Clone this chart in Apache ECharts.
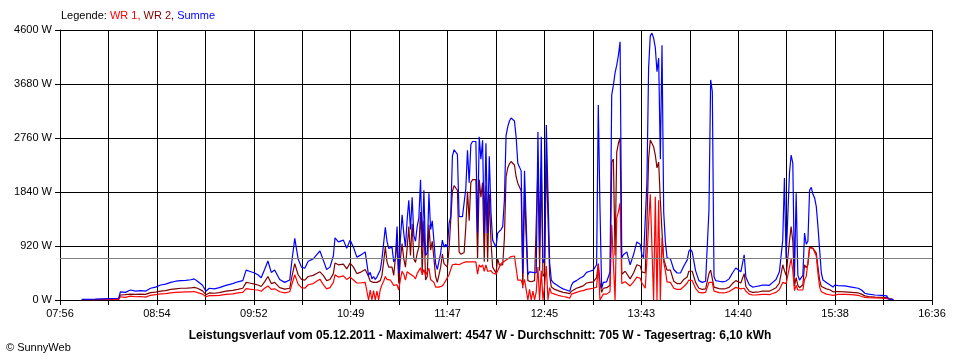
<!DOCTYPE html>
<html><head><meta charset="utf-8">
<script src="https://cdn.jsdelivr.net/npm/echarts@6/dist/echarts.min.js"></script>
<style>html,body{margin:0;padding:0;background:#fff}#c{width:960px;height:360px}</style>
</head><body><div id="c"></div>
<script>
const times = [
'08:09','08:17','08:26','08:31','08:32','08:35','08:38','08:41','08:44','08:47',
'08:50','08:53','08:56','08:59','09:02','09:05','09:08','09:11','09:14','09:16',
'09:18','09:21','09:23','09:25','09:28','09:31','09:35','09:39','09:42','09:45',
'09:47','09:49','09:52','09:54','09:56','09:58','10:00','10:02','10:04','10:07',
'10:10','10:13','10:14','10:16','10:18','10:20','10:22','10:24','10:27','10:29',
'10:31','10:33','10:35','10:37','10:39','10:40','10:42','10:45','10:47','10:49',
'10:51','10:53','10:55','10:58','11:00','11:01','11:02','11:03','11:04','11:05',
'11:06','11:07','11:08','11:09','11:10','11:11','11:12','11:13','11:14','11:15',
'11:16','11:17','11:18','11:19','11:20','11:21','11:22','11:23','11:24','11:25',
'11:26','11:27','11:28','11:29','11:30','11:31','11:32','11:33','11:34','11:35',
'11:36','11:37','11:38','11:39','11:40','11:41','11:42','11:43','11:44','11:45',
'11:46','11:47','11:48','11:49','11:50','11:51','11:52','11:53','11:54','11:55',
'11:56','11:57','11:58','11:59','12:00','12:01','12:02','12:03','12:04','12:05',
'12:06','12:07','12:08','12:09','12:10','12:11','12:12','12:13','12:14','12:15',
'12:16','12:17','12:18','12:19','12:20','12:21','12:22','12:23','12:24','12:25',
'12:26','12:27','12:28','12:29','12:30','12:31','12:32','12:33','12:34','12:35',
'12:36','12:37','12:38','12:39','12:40','12:41','12:42','12:43','12:44','12:45',
'12:46','12:47','12:48','12:49','12:50','12:51','12:52','12:53','12:54','12:56',
'12:58','12:59','13:00','13:01','13:02','13:04','13:06','13:08','13:10','13:12',
'13:14','13:16','13:17','13:18','13:19','13:20','13:22','13:24','13:25','13:26',
'13:27','13:28','13:29','13:30','13:31','13:32','13:33','13:34','13:36','13:38',
'13:40','13:41','13:42','13:43','13:44','13:45','13:46','13:47','13:48','13:49',
'13:50','13:51','13:52','13:53','13:54','13:55','13:56','13:57','13:58','14:00',
'14:02','14:04','14:06','14:08','14:10','14:11','14:12','14:13','14:15','14:17',
'14:19','14:21','14:23','14:24','14:25','14:26','14:27','14:29','14:31','14:33',
'14:35','14:37','14:39','14:40','14:42','14:43','14:44','14:45','14:47','14:49',
'14:51','14:53','14:55','14:57','14:59','15:01','15:03','15:05','15:06','15:07',
'15:08','15:09','15:10','15:11','15:12','15:13','15:14','15:15','15:16','15:17',
'15:19','15:20','15:21','15:22','15:23','15:24','15:25','15:26','15:27','15:28',
'15:29','15:30','15:31','15:33','15:35','15:37','15:38','15:40','15:44','15:48',
'15:52','15:54','15:56','15:58','16:02','16:06','16:09','16:10','16:13'
];
const summe = [
10,15,25,30,140,130,170,150,160,150,
200,220,255,270,300,320,330,335,345,360,
320,250,150,200,190,210,250,280,310,330,
510,490,460,430,380,520,665,470,510,350,
300,340,600,1050,700,560,540,660,700,770,
835,680,520,560,750,1060,990,1020,880,1020,
900,730,760,820,420,470,360,400,350,390,
420,510,700,970,1240,1000,880,880,900,650,
700,1250,450,1050,1450,1140,900,1360,1700,1200,
1750,1100,1000,1250,1400,2050,900,1870,760,800,
1820,1200,1350,1000,620,520,500,800,1020,900,
950,900,1300,1420,2450,2560,2540,2480,1420,1400,
1420,1450,1900,2550,2000,2650,2700,2720,2700,1140,
2780,2400,2720,1140,2670,1140,2450,1500,1020,1000,
900,1140,1160,1200,1250,1700,2800,2950,3050,3100,
3100,3050,2780,2330,2300,2200,450,2200,2180,430,
480,450,470,480,460,2860,900,2780,630,700,
2980,2950,630,340,300,280,260,240,220,190,
170,140,150,250,300,330,370,400,470,490,
510,600,3320,1570,200,300,310,480,3490,3660,
3870,4000,4170,4400,720,770,800,820,600,770,
990,1020,950,770,720,700,2000,3950,4500,4547,
4460,4300,3890,4120,2400,4340,1500,990,720,700,
520,460,460,580,680,830,865,820,500,330,
300,320,1530,3750,3550,400,330,320,310,320,
360,460,545,560,480,460,770,390,260,220,
230,240,255,255,250,300,350,480,510,1020,
2080,700,680,2160,2470,2330,400,1820,420,340,
420,1140,950,1000,1870,1920,1800,1740,1590,1250,
850,460,340,300,260,220,255,245,240,220,
200,170,115,100,85,80,70,15,10
];
const wr2 = [
5,8,15,18,85,90,100,95,100,95,
125,135,150,160,180,190,200,200,205,215,
200,155,90,120,115,125,150,165,180,200,
300,290,270,255,230,310,400,280,300,210,
185,200,360,620,430,350,340,400,420,450,
480,420,330,350,450,630,600,610,530,630,
560,450,470,520,400,320,340,300,330,300,
320,330,420,650,900,650,560,540,560,420,
450,1000,280,700,960,700,560,880,1250,760,
1300,700,640,800,900,1500,470,1350,340,400,
1280,850,1000,700,400,300,280,560,780,620,
620,560,870,900,1850,1950,1930,1870,820,780,
790,810,1250,1850,1350,2000,2050,2070,2050,700,
2050,1750,2000,650,1950,650,1800,1000,560,550,
460,700,600,580,600,1050,2100,2250,2320,2360,
2360,2300,2100,1990,1960,1860,200,1850,1840,330,
300,310,320,330,320,2300,500,2250,400,450,
2400,2380,420,220,190,180,170,160,150,130,
120,100,110,150,180,200,220,240,290,300,
310,380,620,300,130,200,210,250,2350,2400,
760,2520,2670,2760,440,470,490,500,360,460,
600,620,580,480,450,460,1300,2400,2725,2725,
2610,2470,2250,2350,1700,1160,700,600,510,510,
320,280,280,350,390,490,510,490,300,200,
180,190,450,510,480,220,200,195,190,195,
215,280,330,340,290,280,450,230,150,130,
135,140,150,150,150,180,210,290,310,600,
500,420,410,1000,1250,1000,240,380,250,210,
260,600,550,600,900,920,880,850,800,560,
340,230,200,190,175,140,150,145,140,130,
120,100,70,60,50,45,40,10,5
];
const wr1 = [
5,7,10,12,55,45,65,55,60,50,
80,90,105,110,120,130,135,140,140,145,
125,100,55,75,75,80,95,105,120,130,
195,185,175,170,150,200,240,180,190,140,
120,140,240,430,270,210,200,260,280,320,
355,260,190,210,300,430,390,410,350,390,
340,290,290,300,0,170,0,160,0,150,
0,180,260,320,400,350,330,340,340,250,
260,260,170,350,490,440,340,480,450,440,
450,400,360,450,500,550,430,520,420,400,
540,350,350,300,220,220,220,240,240,280,
330,340,430,520,600,610,610,610,600,620,
630,640,650,680,650,650,650,650,650,440,
600,560,600,490,600,490,520,500,460,450,
440,440,560,620,650,660,680,700,730,740,
750,750,720,340,340,340,250,350,340,0,
180,0,150,0,140,560,0,500,0,250,
580,0,210,120,110,100,90,80,70,60,
50,20,30,100,120,130,150,160,180,190,
200,220,600,0,0,100,100,140,1280,1300,
0,1400,1500,1650,280,300,310,320,240,310,
390,400,370,290,270,200,700,1300,1800,1820,
0,1760,0,1700,0,1060,650,500,310,300,
200,180,180,230,290,340,355,330,200,130,
120,130,300,330,300,150,130,125,120,125,
145,180,215,220,190,180,200,150,100,85,
85,90,95,95,90,110,130,180,190,300,
320,280,270,560,700,500,160,250,170,140,
170,350,400,400,890,900,880,850,750,450,
220,140,115,100,90,80,100,95,95,90,
80,60,45,40,35,30,25,5,5
];
const xTickLabels = ['07:56','08:54','09:52','10:49','11:47','12:45','13:43','14:40','15:38','16:36'];
const yMax = 4600, yStep = 920;
const average = 705;
const legendLabel = 'Legende:';
const legendItems = ['WR 1', 'WR 2', 'Summe'];
const titleText = 'Leistungsverlauf vom 05.12.2011 - Maximalwert: 4547 W - Durchschnitt: 705 W - Tagesertrag: 6,10 kWh';
const creditText = '\u00A9 SunnyWeb';

const START = 7 * 60 + 56, SPAN = 520, STEPS = 18, STEP = SPAN / STEPS;
const toX = t => { const p = t.split(':').map(Number); return p[0] * 60 + p[1] - START; };
const pts = arr => times.map((t, i) => [toX(t), arr[i]]);
const FONT = '"Liberation Sans", Arial, sans-serif';
const COLORS = { wr1: '#ff0000', wr2: '#800000', summe: '#0000ff' };

const chart = echarts.init(document.getElementById('c'), null, { renderer: 'canvas' });
const lineSeries = (name, data, color, z) => ({
  name, type: 'line', data: pts(data), showSymbol: false, symbol: 'none', z,
  lineStyle: { color, width: 1.2 }, itemStyle: { color }, silent: true
});
const s3 = lineSeries('Summe', summe, COLORS.summe, 4);
s3.markLine = {
  silent: true, symbol: 'none', label: { show: false },
  lineStyle: { color: '#808080', width: 1, type: 'solid' },
  data: [{ yAxis: average }]
};
chart.setOption({
  animation: false,
  backgroundColor: '#ffffff',
  grid: { left: 60, right: 28, top: 30, bottom: 60 },
  xAxis: {
    type: 'value', min: 0, max: SPAN, interval: STEP,
    axisLine: { show: true, lineStyle: { color: '#000', width: 1 } },
    axisTick: { show: true, length: 5, lineStyle: { color: '#000', width: 1 } },
    splitLine: { show: true, lineStyle: { color: '#000', width: 1 } },
    axisLabel: {
      margin: 8, color: '#000', fontFamily: FONT, fontSize: 11,
      formatter: v => { const k = Math.round(v / STEP); return k % 2 === 0 ? (xTickLabels[k / 2] || '') : ''; }
    }
  },
  yAxis: {
    type: 'value', min: 0, max: yMax, interval: yStep,
    axisLine: { show: true, lineStyle: { color: '#000', width: 1 } },
    axisTick: { show: true, length: 5, lineStyle: { color: '#000', width: 1 } },
    splitLine: { show: true, lineStyle: { color: '#000', width: 1 } },
    axisLabel: { margin: 8, color: '#000', fontFamily: FONT, fontSize: 11, formatter: v => v + ' W' }
  },
  series: [
    lineSeries('WR 2', wr2, COLORS.wr2, 2),
    lineSeries('WR 1', wr1, COLORS.wr1, 3),
    s3
  ],
  graphic: [
    {
      type: 'text', left: 61, top: 10,
      style: {
        text: '{k|' + legendLabel + ' }{a|' + legendItems[0] + ', }{b|' + legendItems[1] + ', }{c|' + legendItems[2] + '}',
        font: '11px ' + FONT,
        rich: {
          k: { fill: '#000', font: '11px ' + FONT },
          a: { fill: COLORS.wr1, font: '11px ' + FONT },
          b: { fill: COLORS.wr2, font: '11px ' + FONT },
          c: { fill: COLORS.summe, font: '11px ' + FONT }
        }
      }
    },
    { type: 'text', left: 'center', top: 330, style: { text: titleText, font: 'bold 12px ' + FONT, fill: '#000' } },
    { type: 'text', left: 6, top: 342, style: { text: creditText, font: '11px ' + FONT, fill: '#000' } }
  ]
});
</script></body></html>
